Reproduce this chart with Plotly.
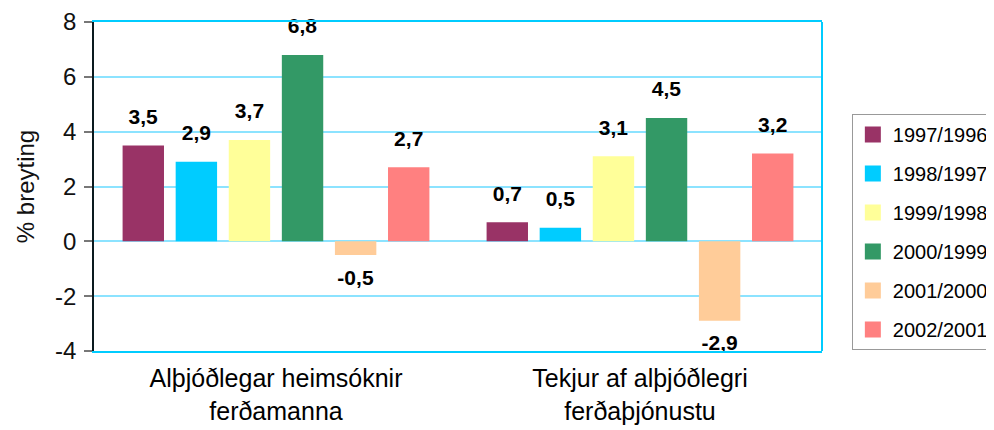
import plotly.graph_objects as go

categories = ["Alþjóðlegar heimsóknir<br>ferðamanna", "Tekjur af alþjóðlegri<br>ferðaþjónustu"]
series_names = ["1997/1996", "1998/1997", "1999/1998", "2000/1999", "2001/2000", "2002/2001"]
v_1997_1996 = [3.5, 0.7]
v_1998_1997 = [2.9, 0.5]
v_1999_1998 = [3.7, 3.1]
v_2000_1999 = [6.8, 4.5]
v_2001_2000 = [-0.5, -2.9]
v_2002_2001 = [2.7, 3.2]
series_values = [v_1997_1996, v_1998_1997, v_1999_1998, v_2000_1999, v_2001_2000, v_2002_2001]
colors = ["#993366", "#00CCFF", "#FFFF99", "#339966", "#FFCC99", "#FF8080"]
y_ticks = [-4, -2, 0, 2, 4, 6, 8]

FONT = "Arial, Liberation Sans, sans-serif"
LABEL_SIZE = 21


def fmt(v):
    s = f"{v:.1f}".replace(".", ",")
    lab = f"<span style='font-size:{LABEL_SIZE}px'><b>{s}</b></span>"
    if v >= 0:
        return f"{lab}<br> "
    return f" <br>{lab}"


fig = go.Figure()
for name, vals, col in zip(series_names, series_values, colors):
    fig.add_trace(go.Bar(
        x=categories, y=vals, name=name,
        marker=dict(color=col, line=dict(width=0)),
        text=[fmt(v) for v in vals], textposition="outside",
        textfont=dict(family=FONT, size=12, color="black"),
        constraintext="none",
        cliponaxis=False, showlegend=False, hoverinfo="skip",
    ))
# legend entries
for i, (name, col) in enumerate(zip(series_names, colors)):
    fig.add_trace(go.Scatter(
        x=[None], y=[None], mode="markers", name=name,
        marker=dict(symbol="square", size=16, color=col),
        legendgroup=f"g{i}", showlegend=True,
    ))

# page body has an 8px margin: offsets below compensate so the plot area
# lands at x 94..822, y 22..351 of the window
fig.update_layout(
    width=994, height=430,
    margin=dict(l=86, r=180, t=14, b=87, autoexpand=False),
    paper_bgcolor="white", plot_bgcolor="white",
    barmode="group", bargap=0.125, bargroupgap=0.22,
    font=dict(family=FONT, color="black"),
    legend=dict(
        x=1.041, y=0.72, xanchor="left", yanchor="top",
        bordercolor="#999999", borderwidth=1,
        font=dict(family=FONT, size=20, color="black"),
        traceorder="grouped", tracegroupgap=10,
        itemwidth=30,
    ),
    xaxis=dict(
        showline=True, linecolor="#00CCFF", linewidth=2, mirror=True,
        showgrid=False, ticks="", automargin=False,
        ticklabelstandoff=4,
        tickfont=dict(family=FONT, size=25, color="black"),
    ),
    yaxis=dict(
        range=[-4, 8], tickvals=y_ticks, ticktext=[str(t) for t in y_ticks],
        showline=True, linecolor="#0A1A1F", linewidth=1.5,
        ticks="outside", ticklen=8, tickcolor="#777777", tickwidth=1.5,
        showgrid=True, gridcolor="#8CE3FF", gridwidth=1.5,
        zeroline=True, zerolinecolor="#8CE3FF", zerolinewidth=1.5,
        automargin=False, ticklabelstandoff=3,
        tickfont=dict(family=FONT, size=24, color="#111111"),
        title=dict(text="% breyting", font=dict(family=FONT, size=24, color="#111111"), standoff=14),
    ),
    shapes=[dict(type="line", xref="x domain", yref="y domain", x0=1, x1=1, y0=0, y1=1,
                 line=dict(color="#00CCFF", width=2))],
)

fig.write_html("out.html")
